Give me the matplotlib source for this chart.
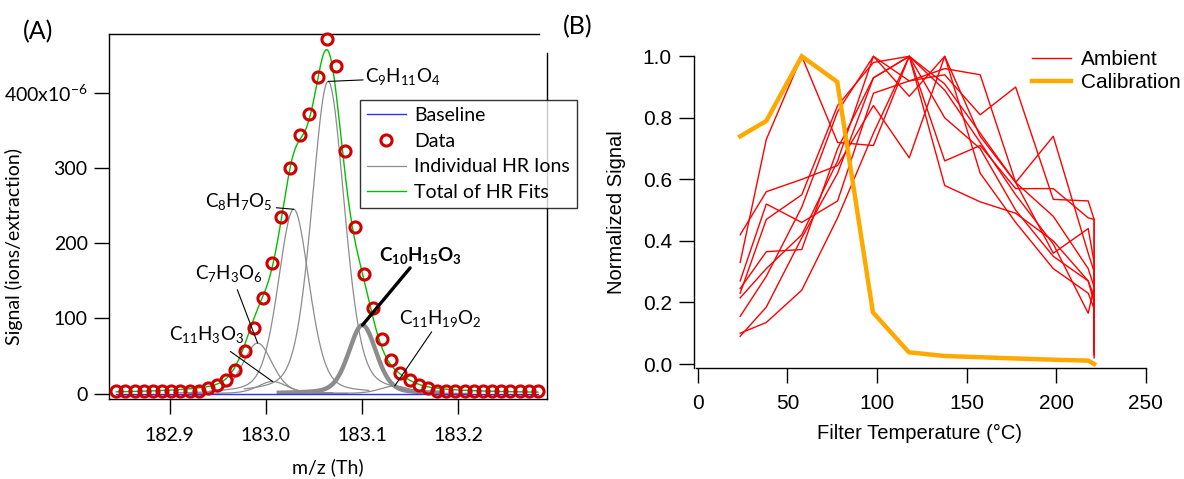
import numpy as np
import matplotlib
matplotlib.use('Agg')
import matplotlib.pyplot as plt

plt.rcParams['mathtext.fontset'] = 'custom'
plt.rcParams['mathtext.rm'] = 'Lato'
plt.rcParams['mathtext.it'] = 'Lato:italic'
plt.rcParams['mathtext.bf'] = 'Lato:bold'

# ---- panel A: high-resolution fit of m/z 183 ----
mz_start = 182.8445
mz_step = 0.00953
signal = [3, 3, 3, 3, 3, 3, 3, 3, 3, 4, 7, 11, 18, 31, 56, 87, 127, 174, 235, 300,
          344, 372, 421, 471, 436, 322, 221, 159, 114, 73, 44, 27, 18, 11, 7, 4,
          3, 3, 3, 3, 3, 3, 3, 3, 3, 3, 3]

ion_labels = [r'$\mathregular{C_7H_3O_6}$', r'$\mathregular{C_{11}H_3O_3}$',
              r'$\mathregular{C_8H_7O_5}$', r'$\mathregular{C_9H_{11}O_4}$',
              r'$\mathbf{C_{10}H_{15}O_3}$', r'$\mathregular{C_{11}H_{19}O_2}$']
ion_centers = [182.9915, 183.007, 183.029, 183.0648, 183.1005, 183.134]
ion_heights = [67, 16, 245, 415, 91, 10]
ion_fwhm = [0.036, 0.036, 0.038, 0.040, 0.034, 0.036]
highlight = 4  # C10H15O3

# label text position and leader start, per ion
label_text = [(182.962, 160), (182.9382, 78), (183.0067, 255), (183.1033, 421),
              (183.1604, 184), (183.1812, 100)]
label_ha = ['center', 'center', 'right', 'left', 'center', 'center']
leader_start = [(182.9704, 138), (182.9631, 56), (183.0109, 247), (183.1012, 417),
                (183.150, 167), (183.1724, 82)]

# ---- panel B: thermograms ----
temp_amb = [23.6, 38.2, 58, 78, 98, 118, 137.8, 157.6, 177.4, 198.4, 217.9, 221.2, 221.2]
ambient = [
    [0.33, 0.73, 1.00, 0.72, 0.71, 1.00, 0.91, 0.75, 0.59, 0.48, 0.31, 0.25, 0.05],
    [0.42, 0.56, 0.60, 0.645, 0.84, 0.67, 1.00, 0.74, 0.59, 0.36, 0.44, 0.33, 0.08],
    [0.27, 0.52, 0.46, 0.53, 0.88, 0.92, 0.94, 0.81, 0.90, 0.535, 0.53, 0.47, 0.04],
    [0.245, 0.365, 0.372, 0.70, 0.93, 1.00, 0.66, 0.71, 0.57, 0.57, 0.475, 0.47, 0.03],
    [0.23, 0.47, 0.55, 0.84, 0.98, 1.00, 0.58, 0.527, 0.49, 0.40, 0.27, 0.20, 0.06],
    [0.215, 0.31, 0.42, 0.66, 1.00, 0.87, 1.00, 0.62, 0.46, 0.31, 0.23, 0.18, 0.10],
    [0.155, 0.285, 0.51, 0.82, 1.00, 0.92, 0.96, 0.94, 0.59, 0.74, 0.36, 0.30, 0.02],
    [0.10, 0.135, 0.24, 0.475, 0.75, 1.00, 0.80, 0.70, 0.50, 0.35, 0.27, 0.22, 0.03],
    [0.09, 0.185, 0.41, 0.62, 0.93, 1.00, 0.89, 0.72, 0.55, 0.39, 0.165, 0.25, 0.07],
]
temp_cal = [23.6, 38.2, 58, 77.8, 97.7, 117.8, 137.8, 157.6, 177.4, 198.4, 217.9, 221.2]
calibration = [0.74, 0.79, 1.0, 0.917, 0.168, 0.038, 0.026, 0.022, 0.018, 0.014, 0.011, 0.0]


def peak_shape(x, center, height, fwhm, eta=0.3):
    r = ((x - center) / fwhm) ** 2
    return height * ((1 - eta) * np.exp(-4 * np.log(2) * r) + eta / (1 + 4 * r))


W, H = 1184, 479
fig = plt.figure(figsize=(W / 100, H / 100), dpi=100)

# ---------------- panel A ----------------
axA = fig.add_axes([108.5 / W, 1 - 399 / H, (547 - 108.5) / W, (399 - 33.5) / H])
mz = mz_start + mz_step * np.arange(len(signal))
fine = np.linspace(mz[0], mz[-1], 800)

total = np.zeros_like(fine)
for i, (c, h, w) in enumerate(zip(ion_centers, ion_heights, ion_fwhm)):
    total += peak_shape(fine, c, h, w)
    xs = np.linspace(c - 0.087, c + 0.078, 300)
    if i == highlight:
        axA.plot(xs, peak_shape(xs, c, h, w), color='#8c8c8c', lw=3.2, zorder=2)
    else:
        axA.plot(xs, peak_shape(xs, c, h, w), color='#8c8c8c', lw=0.9, zorder=1,
                 label='Individual HR Ions' if i == 0 else None)

axA.plot([mz[0], mz[-1]], [0, 0], color='#3030ff', lw=1.0, zorder=3, label='Baseline')
axA.plot(fine, total, color='#00c000', lw=1.0, zorder=4, label='Total of HR Fits')
axA.plot(mz, signal, ls='none', marker='o', ms=8, mfc='none', mec='#d00000', mew=2.2,
         zorder=5, label='Data', clip_on=False)

for i in range(len(ion_labels)):
    peak = (ion_centers[i], ion_heights[i])
    bold = i == highlight
    axA.annotate('', xy=peak, xytext=leader_start[i],
                 arrowprops=dict(arrowstyle='-', color='black', lw=2.4 if bold else 0.8,
                                 shrinkA=0, shrinkB=0), zorder=6)
    axA.text(label_text[i][0], label_text[i][1], ion_labels[i], ha=label_ha[i],
             va='center', fontsize=13.5, family='Lato', zorder=6)

axA.set_xlim(182.8365, 183.2923)
axA.set_ylim(-7.3, 478.7)
axA.set_xticks([182.9, 183.0, 183.1, 183.2])
axA.set_xticklabels(['182.9', '183.0', '183.1', '183.2'], family='Lato', fontsize=14)
axA.set_yticks([0, 100, 200, 300, 400])
axA.set_yticklabels(['0', '100', '200', '300', r'400x10$^{\mathregular{-6}}$'],
                    family='Lato', fontsize=14)
axA.tick_params(direction='out', length=11, width=1, pad=4)
axA.tick_params(axis='x', pad=9)
axA.spines['top'].set_bounds(182.8365, 183.284)
axA.spines['right'].set_bounds(-7.3, 452.8)
for s in axA.spines.values():
    s.set_linewidth(1.0)
axA.set_xlabel('m/z (Th)', family='Lato', fontsize=14)
axA.xaxis.set_label_coords(0.5, -0.163)
axA.set_ylabel('Signal (ions/extraction)', family='Lato', fontsize=14)
axA.yaxis.set_label_coords(-0.195, 0.416)

handles, labels = axA.get_legend_handles_labels()
order = ['Baseline', 'Data', 'Individual HR Ions', 'Total of HR Fits']
hmap = dict(zip(labels, handles))
legA = axA.legend([hmap[k] for k in order], order, loc='upper left',
                  bbox_to_anchor=(360 / W, 1 - 100 / H), bbox_transform=fig.transFigure,
                  prop={'family': 'Lato', 'size': 14}, frameon=True, fancybox=False,
                  edgecolor='black', handlelength=2.0, handletextpad=0.45,
                  labelspacing=0.45, borderpad=0.35, borderaxespad=0)
legA.get_frame().set_linewidth(1.0)

fig.text(38 / W, 1 - 32 / H, '(A)', ha='center', va='center', family='Lato', fontsize=18)

# ---------------- panel B ----------------
axB = fig.add_axes([694.2 / W, 1 - 367.7 / H, (1145.7 - 694.2) / W, (367.7 - 56.3) / H])
for k, series in enumerate(ambient):
    axB.plot(temp_amb, series, color='#ff0000', lw=1.0, clip_on=False,
             label='Ambient' if k == 0 else None)
axB.plot(temp_cal, calibration, color='#ffa800', lw=3.2, clip_on=False,
         solid_joinstyle='miter', label='Calibration')

axB.set_xlim(-2.06, 250)
axB.set_ylim(-0.012, 1.0)
axB.set_xticks([0, 50, 100, 150, 200, 250])
axB.set_yticks([0, 0.2, 0.4, 0.6, 0.8, 1.0])
axB.set_yticklabels(['0.0', '0.2', '0.4', '0.6', '0.8', '1.0'])
for lab in axB.get_xticklabels() + axB.get_yticklabels():
    lab.set_family('Liberation Sans')
    lab.set_fontsize(15)
axB.tick_params(direction='out', length=11, width=1, pad=5)
axB.tick_params(axis='x', pad=8)
axB.spines['top'].set_visible(False)
axB.spines['right'].set_visible(False)
axB.spines['bottom'].set_bounds(-0.8, 250)
for s in axB.spines.values():
    s.set_linewidth(1.0)
axB.set_xlabel('Filter Temperature (°C)', family='Liberation Sans', fontsize=14.5)
axB.xaxis.set_label_coords(0.5, -0.18)
axB.set_ylabel('Normalized Signal', family='Liberation Sans', fontsize=14.5)
axB.yaxis.set_label_coords(-0.15, 0.5)
legB = axB.legend(loc='upper left', bbox_to_anchor=(1032 / W, 1 - 50 / H),
                  bbox_transform=fig.transFigure, frameon=False,
                  prop={'family': 'Liberation Sans', 'size': 15},
                  handlelength=1.85, handletextpad=0.5, labelspacing=0.2,
                  borderpad=0, borderaxespad=0)

fig.text(578 / W, 1 - 27 / H, '(B)', ha='center', va='center', family='Lato', fontsize=18)

fig.savefig('out.png', dpi=100)
